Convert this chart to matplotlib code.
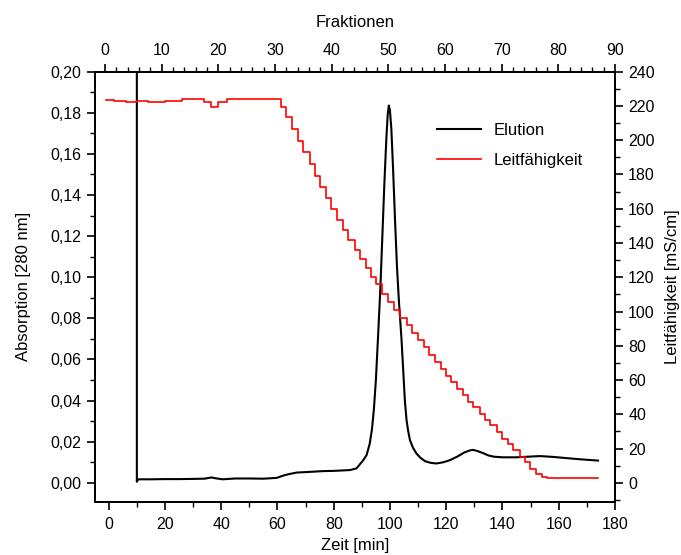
import matplotlib
matplotlib.use("Agg")
from matplotlib import pyplot as plt
from matplotlib.ticker import MultipleLocator, FuncFormatter

plt.rcParams['font.family'] = ['Liberation Sans', 'DejaVu Sans']

# Elution (absorption at 280 nm) vs time [min]
elu_t = [10, 10, 10.5, 15, 20, 25, 30, 34, 36.5, 38, 40.5, 45, 50, 55, 59.8,
         62, 64, 66.9, 70, 76.4, 80, 85.8, 88.1, 90.5, 91.7, 92.8, 93.6, 94.3,
         95.0, 95.8, 96.6, 97.3, 98.0, 98.7, 99.2, 99.6, 100.0, 100.5, 101.1,
         101.8, 102.5, 103.2, 104.1, 104.7, 105.3, 105.9, 106.5, 107.1, 108.2,
         109.4, 110.8, 112.5, 114.5, 116.5, 119, 121.3, 124, 126.5, 128.5,
         129.6, 131, 133, 135, 137, 140, 145, 149, 153.3, 158, 162.8, 168, 174]
elu_a = [0.3, 0.0005, 0.0017, 0.0017, 0.0018, 0.0018, 0.0019, 0.0020, 0.0026,
         0.0022, 0.0017, 0.0021, 0.0021, 0.0020, 0.0024,
         0.0035, 0.0042, 0.0050, 0.0052, 0.0057, 0.0058, 0.0062, 0.0070, 0.0110,
         0.0135, 0.0190, 0.0260, 0.0360,
         0.0500, 0.0720, 0.0950, 0.1200, 0.1450, 0.1670, 0.1790, 0.1835,
         0.1810, 0.1720, 0.1530,
         0.1280, 0.1050, 0.0880, 0.0700, 0.0550, 0.0400, 0.0305, 0.0250,
         0.0208, 0.0170,
         0.0143, 0.0122, 0.0105, 0.0097, 0.0094, 0.0100, 0.0110, 0.0128,
         0.0148, 0.0158,
         0.0160, 0.0155, 0.0145, 0.0133, 0.0127, 0.0124, 0.0124, 0.0127,
         0.0130, 0.0126, 0.0120, 0.0114, 0.0108]

# Leitfaehigkeit [mS/cm], stepwise (one step per fraction)
cond_t = [-1, 2, 6, 10, 14, 20, 26, 34, 36.5, 39, 42, 50, 56, 61.4,
          63, 65, 67.4, 69.1, 71.5, 73.3, 75.3, 77.4, 79.2, 81.2, 83.4, 85.1,
          87.5, 89.3, 91.4, 93.4, 95.2, 97.3, 99.4, 101.4, 103.5, 105.9, 108,
          110, 112, 114, 116, 118, 120, 121.7, 123.7, 126.1, 127.8, 129.6, 132,
          133.8, 135.5, 137.9, 139.7, 142, 143.8, 146.2, 148, 149.8, 152.1,
          153.9, 155.7, 174]
cond_v = [223.5, 223, 222.5, 223, 222.5, 223, 224, 222, 219.5, 222, 224, 224,
          224, 219.5,
          213.3, 206.3, 199.5, 193.2, 185.9, 179, 172.4, 166, 160.1, 153.3,
          147.5, 141.6,
          135.8, 130.5, 125.1, 120.2, 115.9, 110.5, 105.6, 100.7, 96.4, 91.9,
          87.5,
          83.3, 79, 74.8, 70.5, 66.4, 62.5, 59, 54.9, 51, 47.1, 44.2, 40.3,
          36.8, 33.5, 29.6, 25.7, 22.8, 18.9, 15, 12, 8.2, 5.3,
          3.3, 2.7, 2.7]

fig = plt.figure(figsize=(6.81, 5.55), dpi=100)
ax = fig.add_axes([0.139, 0.096, 0.764, 0.775])
ax2 = ax.twinx()
ax3 = ax.twiny()

l1, = ax.plot(elu_t, elu_a, color='black', lw=1.5, label='Elution')
l2, = ax2.step(cond_t, cond_v, where='post', color='#ff0000', lw=1.2,
               label='Leitfähigkeit')

ax.set_xlim(-5, 180)
ax.set_ylim(-0.0092, 0.20)
ax2.set_ylim(-11.0, 240)
ax3.set_xlim(-1.8, 90)

ax.xaxis.set_major_locator(MultipleLocator(20))
ax.xaxis.set_minor_locator(MultipleLocator(10))
ax.yaxis.set_major_locator(MultipleLocator(0.02))
ax.yaxis.set_minor_locator(MultipleLocator(0.01))
ax.yaxis.set_major_formatter(FuncFormatter(lambda v, p: ('%.2f' % v).replace('.', ',')))
ax2.yaxis.set_major_locator(MultipleLocator(20))
ax2.yaxis.set_minor_locator(MultipleLocator(10))
ax3.xaxis.set_major_locator(MultipleLocator(10))
ax3.xaxis.set_minor_locator(MultipleLocator(2))

for a in (ax, ax2, ax3):
    a.tick_params(which='major', direction='out', length=6, width=1.2, labelsize=11.5)
    a.tick_params(which='minor', direction='out', length=3.5, width=1.0)
    for s in a.spines.values():
        s.set_linewidth(1.3)

ax.tick_params(top=False, right=False, which='both')
ax.tick_params(axis='x', pad=5)

ax.set_xlabel('Zeit [min]', fontsize=12, labelpad=4)
ax.set_ylabel('Absorption [280 nm]', fontsize=12, labelpad=14)
ax2.set_ylabel('Leitfähigkeit [mS/cm]', fontsize=12, labelpad=7)
ax3.set_xlabel('Fraktionen', fontsize=12, labelpad=12)

ax.legend(handles=[l1, l2], loc='upper left', bbox_to_anchor=(0.63, 0.915),
          frameon=False, fontsize=12, handlelength=2.6, labelspacing=0.9)

fig.savefig('out.png', dpi=100)
